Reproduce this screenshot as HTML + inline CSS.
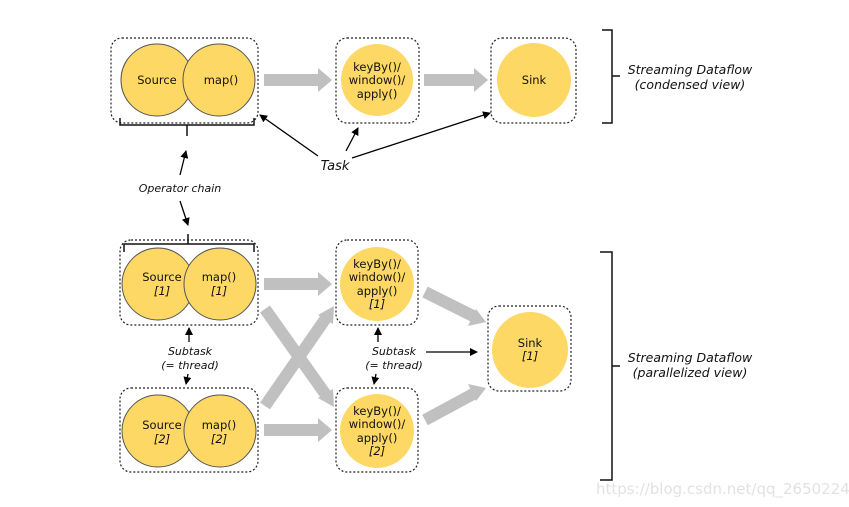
<!DOCTYPE html>
<html><head><meta charset="utf-8"><style>
html,body{margin:0;padding:0;background:#fff;}
svg{display:block;}
text{font-family:"DejaVu Sans","Liberation Sans",sans-serif;}
</style></head><body>
<svg width="849" height="507" viewBox="0 0 849 507" xmlns="http://www.w3.org/2000/svg">
<defs>
<marker id="ah" markerWidth="8" markerHeight="8" refX="7" refY="4" orient="auto" markerUnits="userSpaceOnUse"><path d="M0,0 L8,4 L0,8 z" fill="#000"/></marker>
</defs>
<g fill="none" stroke="#222" stroke-width="1.2" stroke-dasharray="2,2">
<rect x="111" y="38" width="147" height="85" rx="11"/>
<rect x="336" y="38" width="83" height="85" rx="11"/>
<rect x="491" y="38" width="85" height="85" rx="11"/>
<rect x="120" y="240" width="138" height="85" rx="11"/>
<rect x="120" y="388" width="138" height="84" rx="11"/>
<rect x="336" y="240" width="82" height="85" rx="11"/>
<rect x="336" y="388" width="82" height="84" rx="11"/>
<rect x="488" y="306" width="83" height="85" rx="11"/>
</g>
<g fill="#fdd865" stroke="#555" stroke-width="1">
<circle cx="157" cy="80" r="36"/><circle cx="219" cy="80" r="36"/>
<circle cx="158" cy="284" r="36"/><circle cx="220" cy="284" r="36"/>
<circle cx="158" cy="431" r="36"/><circle cx="220" cy="431" r="36"/>
</g>
<g fill="#fdd865">
<circle cx="377" cy="80" r="36"/><circle cx="534" cy="80" r="37"/>
<circle cx="377" cy="284" r="37"/><circle cx="377" cy="431" r="37"/>
<circle cx="530" cy="350" r="38"/>
</g>
<g fill="#c0c0c0">
<polygon points="264,74 318,74 318,68 332,80 318,92 318,86 264,86"/>
<polygon points="424,74 474,74 474,68 488,80 474,92 474,86 424,86"/>
<polygon points="264,278 318,278 318,272 332,284 318,296 318,290 264,290"/>
<polygon points="264,424 318,424 318,418 332,430 318,442 318,436 264,436"/>
</g>
<g stroke="#c0c0c0" stroke-width="12">
<line x1="265" y1="309" x2="326" y2="395"/>
<line x1="265" y1="406" x2="326" y2="318"/>
<line x1="425" y1="292" x2="475" y2="317"/>
<line x1="425" y1="420" x2="475" y2="393"/>
</g>
<g fill="#c0c0c0">
<polygon points="334,407 318,398 333,389"/>
<polygon points="334,306 318,315 333,324"/>
<polygon points="486,322 468,326 476,309"/>
<polygon points="486,388 468,384 476,401"/>
</g>
<g font-size="11.5" fill="#111" text-anchor="middle">
<text x="157" y="84">Source</text><text x="221" y="84">map()</text>
<text x="377" y="71">keyBy()/</text><text x="377" y="84">window()/</text><text x="377" y="98">apply()</text>
<text x="534" y="84">Sink</text>
<text x="162" y="281">Source</text><text x="219" y="281">map()</text>
<text x="377" y="268">keyBy()/</text><text x="377" y="281">window()/</text><text x="377" y="295">apply()</text>
<text x="162" y="429">Source</text><text x="219" y="429">map()</text>
<text x="377" y="415">keyBy()/</text><text x="377" y="428">window()/</text><text x="377" y="442">apply()</text>
<text x="530" y="347">Sink</text>
</g>
<g font-size="11.5" fill="#111" text-anchor="middle" font-style="italic">
<text x="162" y="295">[1]</text><text x="219" y="295">[1]</text>
<text x="377" y="308">[1]</text>
<text x="162" y="443">[2]</text><text x="219" y="443">[2]</text>
<text x="377" y="455">[2]</text>
<text x="530" y="360">[1]</text>
</g>
<g fill="none" stroke="#111" stroke-width="1.5">
<path d="M120,118 V125 H254 V118 M187,125 V136"/>
<path d="M124,252 V244 H254 V252 M188,244 V234"/>
<path d="M602,30 H612 V76 H620 M612,76 V123 H602"/>
<path d="M600,252 H612 V366 H620 M612,366 V480 H600"/>
</g>
<g stroke="#000" stroke-width="1.3" marker-end="url(#ah)">
<line x1="318" y1="156" x2="260" y2="115"/>
<line x1="346" y1="151" x2="358" y2="128"/>
<line x1="352" y1="158" x2="490" y2="113"/>
<line x1="180" y1="175" x2="186" y2="151"/>
<line x1="180" y1="201" x2="188" y2="225"/>
<line x1="189" y1="342" x2="189" y2="328"/>
<line x1="188" y1="374" x2="186" y2="384"/>
<line x1="378" y1="342" x2="378" y2="328"/>
<line x1="376" y1="374" x2="374" y2="384"/>
<line x1="426" y1="352" x2="477" y2="352"/>
</g>
<g font-style="italic" fill="#111" text-anchor="middle">
<text x="335" y="170" font-size="13">Task</text>
<text x="180" y="192" font-size="11">Operator chain</text>
<text x="190" y="355" font-size="11">Subtask</text><text x="190" y="369" font-size="11">(= thread)</text>
<text x="394" y="355" font-size="11">Subtask</text><text x="394" y="369" font-size="11">(= thread)</text>
<text x="690" y="74" font-size="12.5">Streaming Dataflow</text><text x="690" y="89" font-size="12.5">(condensed view)</text>
<text x="690" y="362" font-size="12.5">Streaming Dataflow</text><text x="690" y="377" font-size="12.5">(parallelized view)</text>
</g>
<text x="596" y="494" font-family="Liberation Sans, sans-serif" font-size="15" fill="#e2e2e2">https://blog.csdn.net/qq_26502245</text>
</svg>
</body></html>
